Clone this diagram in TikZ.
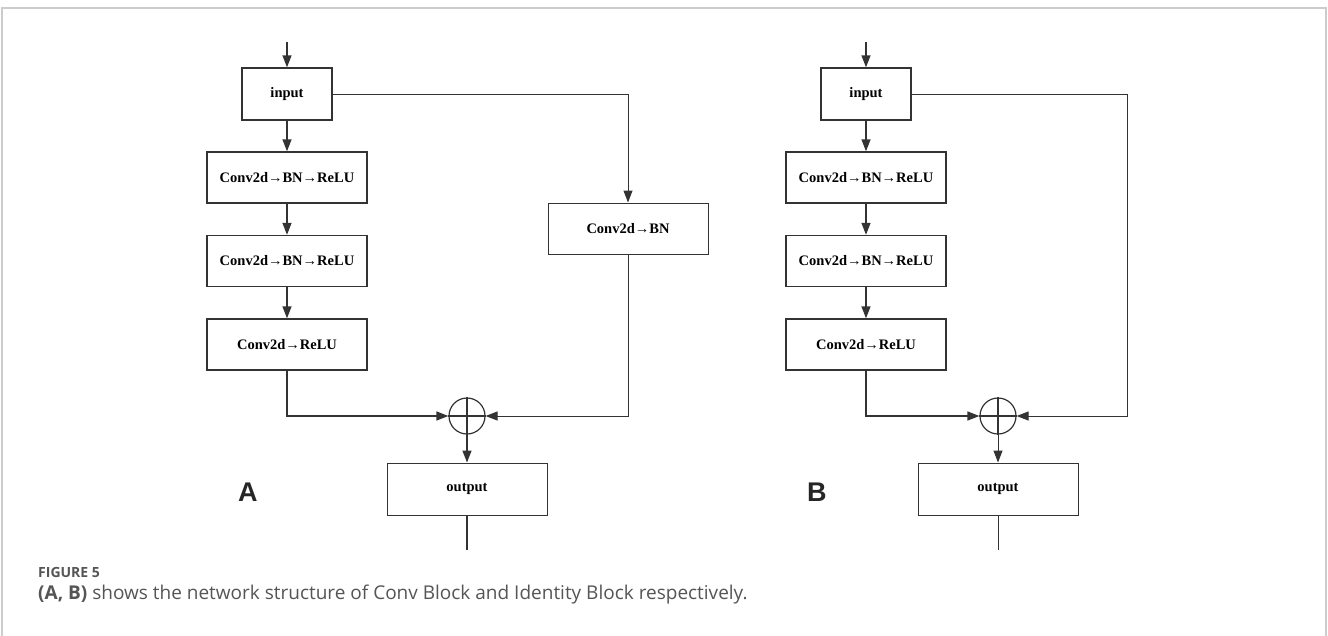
\documentclass[tikz,border=0pt]{standalone}
\usepackage{fontspec}
\setmainfont{Liberation Serif}
\newfontfamily\capfont{Open Sans}
\newfontfamily\labfont{Liberation Sans}
\usetikzlibrary{arrows.meta}
\definecolor{ln}{HTML}{333333}
\definecolor{frm}{HTML}{CCCCCC}
\definecolor{capc}{HTML}{555555}
\tikzset{
  x=1pt, y=-1pt,
  blk/.style={draw=ln, line width=1.4pt, minimum width=160pt, minimum height=51pt, inner sep=0pt,
    font=\fontsize{14.5}{17}\selectfont\bfseries},
  smallblk/.style={blk, minimum width=90pt, minimum height=52pt},
  thinblk/.style={blk, line width=1pt},
  sumc/.style={draw=ln, line width=1.2pt, circle, minimum size=36pt, inner sep=0pt},
  arr/.style={draw=ln, line width=1.4pt, -{Triangle[length=12pt,width=9pt]}},
  thinarr/.style={draw=ln, line width=1pt, -{Triangle[length=12pt,width=9pt]}},
  plain/.style={draw=ln, line width=1.4pt},
  thinplain/.style={draw=ln, line width=1pt},
  panel/.style={font=\labfont\fontsize{27}{30}\selectfont\bfseries, text=black!85, inner sep=0pt, anchor=base west},
}
\begin{document}
\begin{tikzpicture}
\useasboundingbox (0,0) rectangle (1328,635);
\fill[white] (0,0) rectangle (1328,635);
% frame
\draw[frm, line width=1.5pt] (2,640) -- (2,8) -- (1326,8) -- (1326,640);

% ---------- Panel A ----------
\coordinate (ainTop) at (287,42);
\node[smallblk] (ain) at (287,94) {input};
\node[blk] (ac1) at (287,177.5) {Conv2d→BN→ReLU};
\node[blk] (ac2) at (287,261) {Conv2d→BN→ReLU};
\node[blk] (ac3) at (287,344.5) {Conv2d→ReLU};
\node[thinblk] (asc) at (628,228.5) {Conv2d→BN};
\node[sumc] (asum) at (467,416) {};
\draw[line width=1.2pt, ln] (asum.north) -- (asum.south) (asum.west) -- (asum.east);
\node[thinblk, minimum height=52pt] (aout) at (467,489) {output};
\coordinate (aend) at (467,550);

\draw[arr] (ainTop) -- (ain);
\draw[arr] (ain) -- (ac1);
\draw[arr] (ac1) -- (ac2);
\draw[arr] (ac2) -- (ac3);
\draw[thinarr] (ain.east) -| (asc.north);
\draw[arr] (ac3.south) |- (asum.west);
\draw[thinarr] (asc.south) |- (asum.east);
\draw[arr] (asum) -- (aout);
\draw[plain] (aout.south) -- (aend);
\node[panel] (labA) at (238,501) {A};

% ---------- Panel B ----------
\coordinate (binTop) at (866,42);
\node[smallblk] (bin) at (866,94) {input};
\node[blk] (bc1) at (866,177.5) {Conv2d→BN→ReLU};
\node[blk] (bc2) at (866,261) {Conv2d→BN→ReLU};
\node[blk] (bc3) at (866,344.5) {Conv2d→ReLU};
\node[sumc] (bsum) at (998,416) {};
\draw[line width=1.2pt, ln] (bsum.north) -- (bsum.south) (bsum.west) -- (bsum.east);
\node[thinblk, minimum height=52pt] (bout) at (998,489) {output};
\coordinate (bend) at (998,550);
\coordinate (bcorner) at (1127,94);

\draw[arr] (binTop) -- (bin);
\draw[arr] (bin) -- (bc1);
\draw[arr] (bc1) -- (bc2);
\draw[arr] (bc2) -- (bc3);
\draw[thinarr] (bin.east) -- (bcorner) |- (bsum.east);
\draw[arr] (bc3.south) |- (bsum.west);
\draw[thinarr] (bsum) -- (bout);
\draw[thinplain] (bout.south) -- (bend);
\node[panel] (labB) at (807,501) {B};

% ---------- Caption ----------
\node[anchor=base west, inner sep=0pt, text=capc, font=\capfont\fontsize{14}{16}\selectfont\bfseries] (fig) at (38,577) {FIGURE 5};
\node[anchor=base west, inner sep=0pt, text=capc, font=\capfont\fontsize{19}{22}\selectfont] (cap) at (38,599) {\textbf{(A, B)} shows the network structure of Conv Block and Identity Block respectively.};
\end{tikzpicture}
\end{document}
